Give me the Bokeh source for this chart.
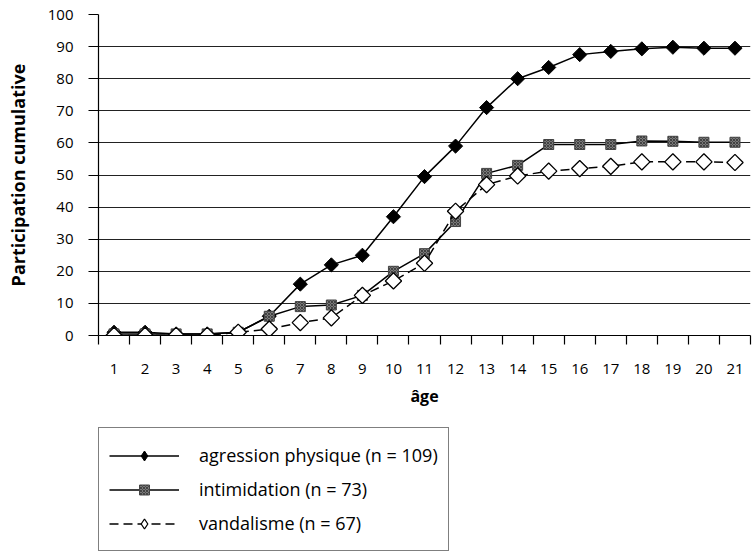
import math
from bokeh.plotting import figure
from bokeh.layouts import column
from bokeh.models import FixedTicker, Legend, LegendItem, Range1d
from bokeh.embed import file_html
from bokeh.resources import INLINE

ages = list(range(1, 22))
agression = [1, 1, 0.5, 0.5, 1, 6, 16, 22, 25, 37, 49.5, 59, 71, 80, 83.5, 87.5, 88.5, 89.3, 89.8, 89.5, 89.5]
intimidation = [0.5, 0.5, 0.5, 0.5, 1, 6, 9, 9.5, 12.5, 20, 25.5, 35.5, 50.5, 53, 59.5, 59.5, 59.5, 60.6, 60.5, 60.2, 60.2]
vandalisme = [0, 0, 0, 0, 1, 2, 4, 5.5, 12.5, 17, 22.5, 38.7, 47, 49.7, 51.2, 52, 52.7, 54.1, 54.1, 54.1, 53.9]
labels = ["agression physique (n = 109)", "intimidation (n = 73)", "vandalisme (n = 67)"]
yticks = list(range(0, 101, 10))

FONT = "Open Sans"
rot = math.pi / 4

LINES = [
    dict(line_color="black", line_width=1.5),
    dict(line_color="black", line_width=1.5),
    dict(line_color="black", line_width=1.5, line_dash="9 5"),
]
MARKERS = [
    dict(fill_color="black", line_color="black"),
    dict(fill_color="#7a7a7a", line_color="#444444",
         hatch_pattern="x", hatch_color="#333333", hatch_scale=3, hatch_weight=0.8),
    dict(fill_color="white", line_color="black", line_width=1.3),
]
# chart markers: rotated squares for diamonds; legend markers: diamond glyphs
CHART_SHAPES = [dict(marker="square", size=10, angle=rot),
                dict(marker="square", size=10),
                dict(marker="square", size=11.5, angle=rot)]
LEGEND_SHAPES = [dict(marker="diamond"), dict(marker="square"), dict(marker="diamond")]
series_list = [agression, intimidation, vandalisme]

p = figure(frame_width=652, frame_height=321, output_backend="svg", toolbar_location=None,
           x_range=Range1d(0.5, 21.5), y_range=Range1d(0, 100),
           min_border_left=98, min_border_top=14, min_border_right=4, min_border_bottom=78)
p.outline_line_color = None
p.xgrid.grid_line_color = None
p.ygrid.grid_line_color = "#222222"
p.ygrid.grid_line_width = 1.2

p.yaxis.ticker = FixedTicker(ticks=yticks)
p.xaxis.ticker = FixedTicker(ticks=ages, minor_ticks=[a - 0.5 for a in ages] + [21.5])
for ax in (p.xaxis[0], p.yaxis[0]):
    ax.axis_line_color = "black"
    ax.axis_line_width = 1.2
    ax.major_label_text_font = FONT
    ax.major_label_text_font_size = "15px"
    ax.major_label_text_color = "black"
    ax.axis_label_text_font = FONT
    ax.axis_label_text_font_style = "bold"
    ax.axis_label_text_color = "black"
p.xaxis.major_tick_in = 0
p.xaxis.major_tick_out = 0
p.xaxis.minor_tick_in = 0
p.xaxis.minor_tick_out = 9
p.xaxis.minor_tick_line_color = "black"
p.xaxis.minor_tick_line_width = 1.2
p.xaxis.major_label_standoff = 19
p.xaxis.axis_label = "âge"
p.xaxis.axis_label_text_font_size = "16px"
p.xaxis.axis_label_standoff = 8
p.yaxis.major_tick_in = 0
p.yaxis.major_tick_out = 10
p.yaxis.major_tick_line_width = 1.2
p.yaxis.minor_tick_line_color = None
p.yaxis.major_label_standoff = 15
p.yaxis.axis_label = "Participation cumulative"
p.yaxis.axis_label_text_font_size = "18px"
p.yaxis.axis_label_standoff = 15

for series, ln, mk, sh in zip(series_list, LINES, MARKERS, CHART_SHAPES):
    p.line(ages, series, **ln)
    p.scatter(ages, series, **sh, **mk)

# legend panel below the chart: same series, drawn outside its (hidden) ranges
leg = figure(width=754, height=146, output_backend="svg", toolbar_location=None,
             x_range=Range1d(-100, -99), y_range=Range1d(-100, -99),
             x_axis_type=None, y_axis_type=None,
             min_border_left=98, min_border_top=14, min_border_right=0, min_border_bottom=0)
leg.outline_line_color = None
leg.xgrid.grid_line_color = None
leg.ygrid.grid_line_color = None
items = []
for lab, series, ln, mk, sh in zip(labels, series_list, LINES, MARKERS, LEGEND_SHAPES):
    lr = leg.line(ages, series, **ln)
    mr = leg.scatter(ages, series, **sh, **mk)
    items.append(LegendItem(label=lab, renderers=[lr, mr]))

legend = Legend(items=items, location="top_left", orientation="vertical")
legend.border_line_color = "black"
legend.border_line_width = 1.5
legend.background_fill_alpha = 1
legend.label_text_font = FONT
legend.label_text_font_size = "18px"
legend.label_text_color = "black"
legend.glyph_width = 70
legend.glyph_height = 25
legend.label_height = 34
legend.label_standoff = 20
legend.spacing = 0
legend.padding = 10
legend.margin = 0
leg.add_layout(legend, "center")

open("out.html", "w").write(file_html(column(p, leg, spacing=0), INLINE))
